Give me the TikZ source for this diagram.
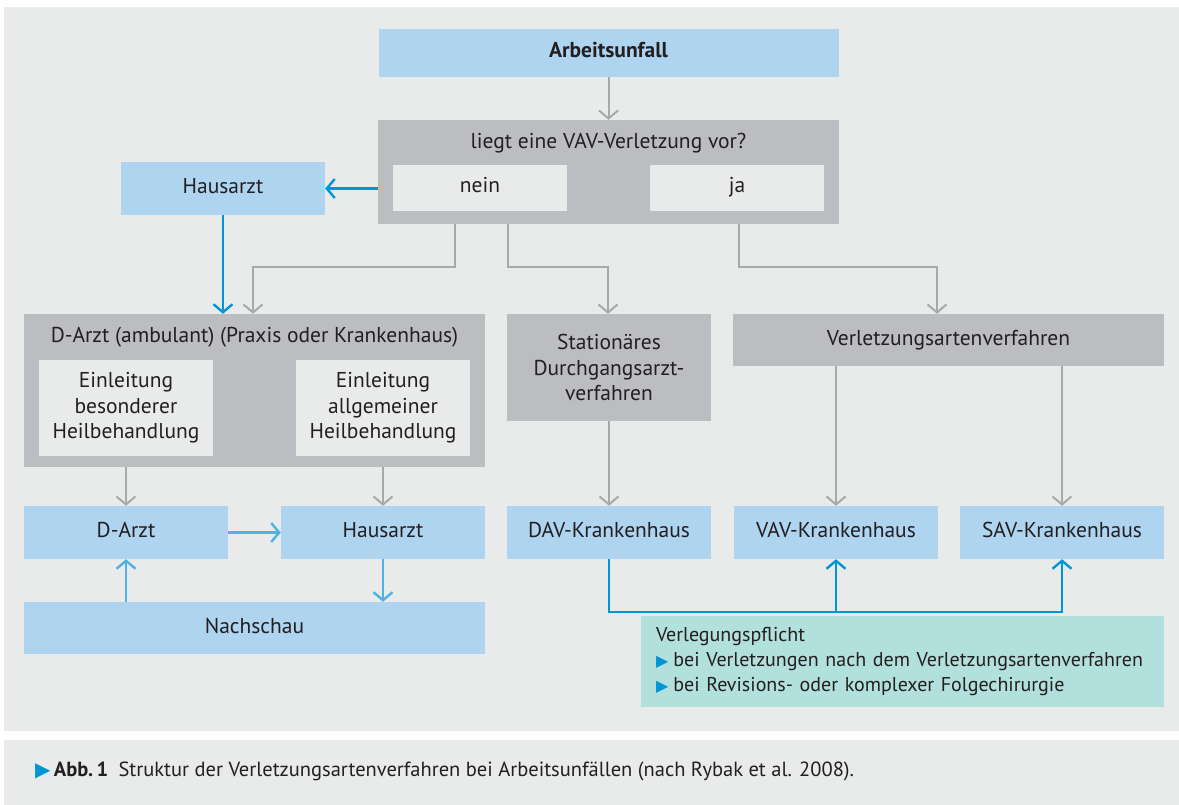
\documentclass[tikz,border=0pt]{standalone}
\usepackage{fontspec}
\setmainfont{PT Sans}
\newfontfamily\symfont{DejaVu Sans}
\usetikzlibrary{arrows.meta}

\definecolor{hintergrund}{RGB}{233,235,234}
\definecolor{blaufeld}{RGB}{174,212,240}
\definecolor{graufeld}{RGB}{188,189,192}
\definecolor{graulinie}{RGB}{168,169,171}
\definecolor{blaulinie}{RGB}{0,150,214}
\definecolor{hellblau}{RGB}{80,178,228}
\definecolor{tuerkis}{RGB}{178,224,220}
\definecolor{schrift}{RGB}{35,31,32}

\newcommand{\grundschrift}{\fontsize{21.5}{25.5}\selectfont}
\newcommand{\dreieck}[1]{{\symfont\fontsize{#1}{#1}\selectfont\color{blaulinie}▶}}

\begin{document}
\begin{tikzpicture}[x=1pt,y=-1pt,
	every node/.style={text=schrift,font=\grundschrift,inner sep=0pt},
	zeile/.style={text height=15pt,text depth=5pt},
	blaubox/.style={fill=blaufeld,zeile},
	graubox/.style={fill=graufeld},
	innenbox/.style={fill=hintergrund},
	grauarrow/.style={draw=graulinie,line width=2pt,-{Straight Barb[length=8pt,width=19pt]}},
	blauarrow/.style={draw=blaulinie,line width=2.4pt,-{Straight Barb[length=8pt,width=19pt]}},
	hellarrow/.style={draw=hellblau,line width=2.4pt,-{Straight Barb[length=8pt,width=19pt]}}]

	\useasboundingbox (0,0) rectangle (1179,805);
	\fill[white] (0,0) rectangle (1179,805);
	\fill[hintergrund] (4,7) rectangle (1179,731);
	\fill[hintergrund] (4,740) rectangle (1179,805);

	% unfall and question
	\node[blaubox,minimum width=460pt,minimum height=48pt,font=\grundschrift\bfseries] (unfall) at (608.5,53) {Arbeitsunfall};
	\node[graubox,minimum width=461pt,minimum height=104pt] (frage) at (608.5,172) {};
	\node (fragetext) at (608.5,143) {liegt eine VAV-Verletzung vor?};
	\node[innenbox,zeile,minimum width=174pt,minimum height=46pt] (nein) at (480,188) {nein};
	\node[innenbox,zeile,minimum width=174pt,minimum height=46pt] (ja) at (737,188) {ja};

	\node[blaubox,minimum width=204pt,minimum height=53pt] (haus1) at (223,188.5) {Hausarzt};

	% second row
	\node[graubox,minimum width=461pt,minimum height=153pt] (darzt) at (254.5,390.5) {};
	\node (darzttext) at (254.5,337) {D-Arzt (ambulant) (Praxis oder Krankenhaus)};
	\node[innenbox,minimum width=174pt,minimum height=96pt,align=center] (einl1) at (126,408) {Einleitung\\besonderer\\Heilbehandlung};
	\node[innenbox,minimum width=174pt,minimum height=96pt,align=center] (einl2) at (383,408) {Einleitung\\allgemeiner\\Heilbehandlung};
	\node[graubox,minimum width=204pt,minimum height=107pt,align=center] (stat) at (609,367.5) {Stationäres\\Durchgangsarzt-\\verfahren};
	\node[graubox,zeile,minimum width=431pt,minimum height=52pt] (vaf) at (948.5,340) {Verletzungsartenverfahren};

	% third row
	\node[blaubox,minimum width=204pt,minimum height=53pt] (darzt2) at (126,532.5) {D-Arzt};
	\node[blaubox,minimum width=204pt,minimum height=53pt] (haus2) at (383,532.5) {Hausarzt};
	\node[blaubox,minimum width=204pt,minimum height=53pt] (dav) at (609,532.5) {DAV-Krankenhaus};
	\node[blaubox,minimum width=204pt,minimum height=53pt] (vav) at (836,532.5) {VAV-Krankenhaus};
	\node[blaubox,minimum width=204pt,minimum height=53pt] (sav) at (1062,532.5) {SAV-Krankenhaus};
	\node[blaubox,minimum width=461pt,minimum height=52pt] (nach) at (254.5,628) {Nachschau};

	% arrows
	\draw[grauarrow] (unfall) -- (frage);
	\draw[blauarrow] (frage.west |- haus1) -- (haus1.east);
	\draw[blauarrow] (haus1) -- (haus1 |- darzt.north);
	\draw[grauarrow] ([xshift=-153.5pt]frage.south) -- ++(0,43) -| ([xshift=-1.5pt]darzt.north);
	\draw[grauarrow] ([xshift=-100.5pt]frage.south) -- ++(0,43) -| ([xshift=-1pt]stat.north);
	\draw[grauarrow] ([xshift=130.5pt]frage.south) -- ++(0,43) -| ([xshift=-11.5pt]vaf.north);

	\draw[grauarrow] (darzt.south -| darzt2) -- (darzt2.north);
	\draw[grauarrow] (darzt.south -| haus2) -- (haus2.north);
	\draw[hellarrow] (darzt2) -- (haus2);
	\draw[hellarrow] (nach.north -| darzt2) -- (darzt2.south);
	\draw[hellarrow] (haus2) -- (haus2 |- nach.north);

	\draw[grauarrow] (stat) -- (dav);
	\draw[grauarrow] (vaf.south -| vav) -- (vav.north);
	\draw[grauarrow] (vaf.south -| sav) -- (sav.north);

	%verlegung
	\draw[blauarrow] (dav.south) -- ++(0,53) coordinate (knick) -| (sav.south);
	\draw[blauarrow] (knick -| vav) -- (vav.south);
	\node[fill=tuerkis,minimum width=523pt,minimum height=91pt,text width=493pt,align=left,
		font=\fontsize{20}{25}\selectfont] (pflicht) at (902.5,661.5)
		{Verlegungspflicht\\
		 \dreieck{16}\hspace{5pt}bei Verletzungen nach dem Verletzungsartenverfahren\\
		 \dreieck{16}\hspace{5pt}bei Revisions- oder komplexer Folgechirurgie};

	% caption
	\node[anchor=base west,font=\fontsize{20.5}{24}\selectfont] (legende) at (35,776)
		{\dreieck{20}\,\textbf{Abb.\,1}\enspace Struktur der Verletzungsartenverfahren bei Arbeitsunfällen (nach Rybak et al. 2008).};

\end{tikzpicture}
\end{document}
